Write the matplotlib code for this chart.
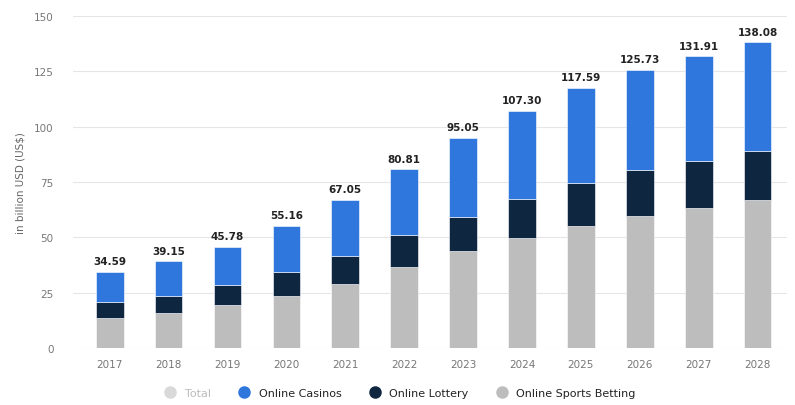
import matplotlib.pyplot as plt
import numpy as np

years = ['2017', '2018', '2019', '2020', '2021', '2022', '2023', '2024', '2025', '2026', '2027', '2028']
sports = [13.4, 16.1, 19.4, 23.4, 29.2, 36.5, 43.7, 49.7, 55.1, 59.5, 63.3, 67.0]
lottery = [7.6, 7.5, 9.2, 11.1, 12.5, 14.6, 15.4, 17.6, 19.5, 20.9, 21.1, 21.9]
casinos = [13.6, 15.6, 17.2, 20.7, 25.3, 29.7, 36.0, 40.0, 43.0, 45.3, 47.5, 49.2]
totals = [34.59, 39.15, 45.78, 55.16, 67.05, 80.81, 95.05, 107.30, 117.59, 125.73, 131.91, 138.08]

c_sports = '#bdbdbd'
c_lottery = '#0f2641'
c_casinos = '#2f77dd'

fig = plt.figure(figsize=(7.95, 4.06), dpi=100)
ax = fig.add_axes([0.092, 0.14, 0.898, 0.818])

x = np.arange(len(years))
w = 0.47
ax.bar(x, sports, w, color=c_sports, edgecolor='white', linewidth=0.4, zorder=2)
ax.bar(x, lottery, w, bottom=sports, color=c_lottery, edgecolor='white', linewidth=0.4, zorder=2)
bot2 = np.array(sports) + np.array(lottery)
ax.bar(x, casinos, w, bottom=bot2, color=c_casinos, edgecolor='white', linewidth=0.4, zorder=2)

for i, t in enumerate(totals):
    ax.text(x[i], t + 2.5, f'{t:.2f}', ha='center', va='bottom', fontsize=7.5,
            fontweight='bold', color='#222222')

ax.set_ylim(0, 150)
ax.set_xlim(-0.62, 11.5)
ax.set_yticks([0, 25, 50, 75, 100, 125, 150])
ax.set_xticks(x)
ax.set_xticklabels(years)
ax.tick_params(axis='both', length=0, labelsize=7.5, colors='#777777')
ax.tick_params(axis='x', pad=8)
ax.tick_params(axis='y', pad=14)
ax.grid(axis='y', color='#e6e6e6', linewidth=0.8, zorder=0)
for s in ax.spines.values():
    s.set_visible(False)
ax.set_ylabel('in billion USD (US$)', fontsize=7.5, color='#666666', labelpad=6)

# legend
from matplotlib.lines import Line2D
handles = [
    Line2D([], [], marker='o', linestyle='', color='#d9d9d9', markersize=8),
    Line2D([], [], marker='o', linestyle='', color=c_casinos, markersize=8),
    Line2D([], [], marker='o', linestyle='', color=c_lottery, markersize=8),
    Line2D([], [], marker='o', linestyle='', color=c_sports, markersize=8),
]
labels = ['Total', 'Online Casinos', 'Online Lottery', 'Online Sports Betting']
leg = fig.legend(handles, labels, loc='center', bbox_to_anchor=(0.5, 0.03), ncol=4,
                 frameon=False, fontsize=8, handletextpad=0.3, columnspacing=2.0)
leg.get_texts()[0].set_color('#bbbbbb')
for t in leg.get_texts()[1:]:
    t.set_color('#222222')

plt.savefig('out.png', dpi=100)
